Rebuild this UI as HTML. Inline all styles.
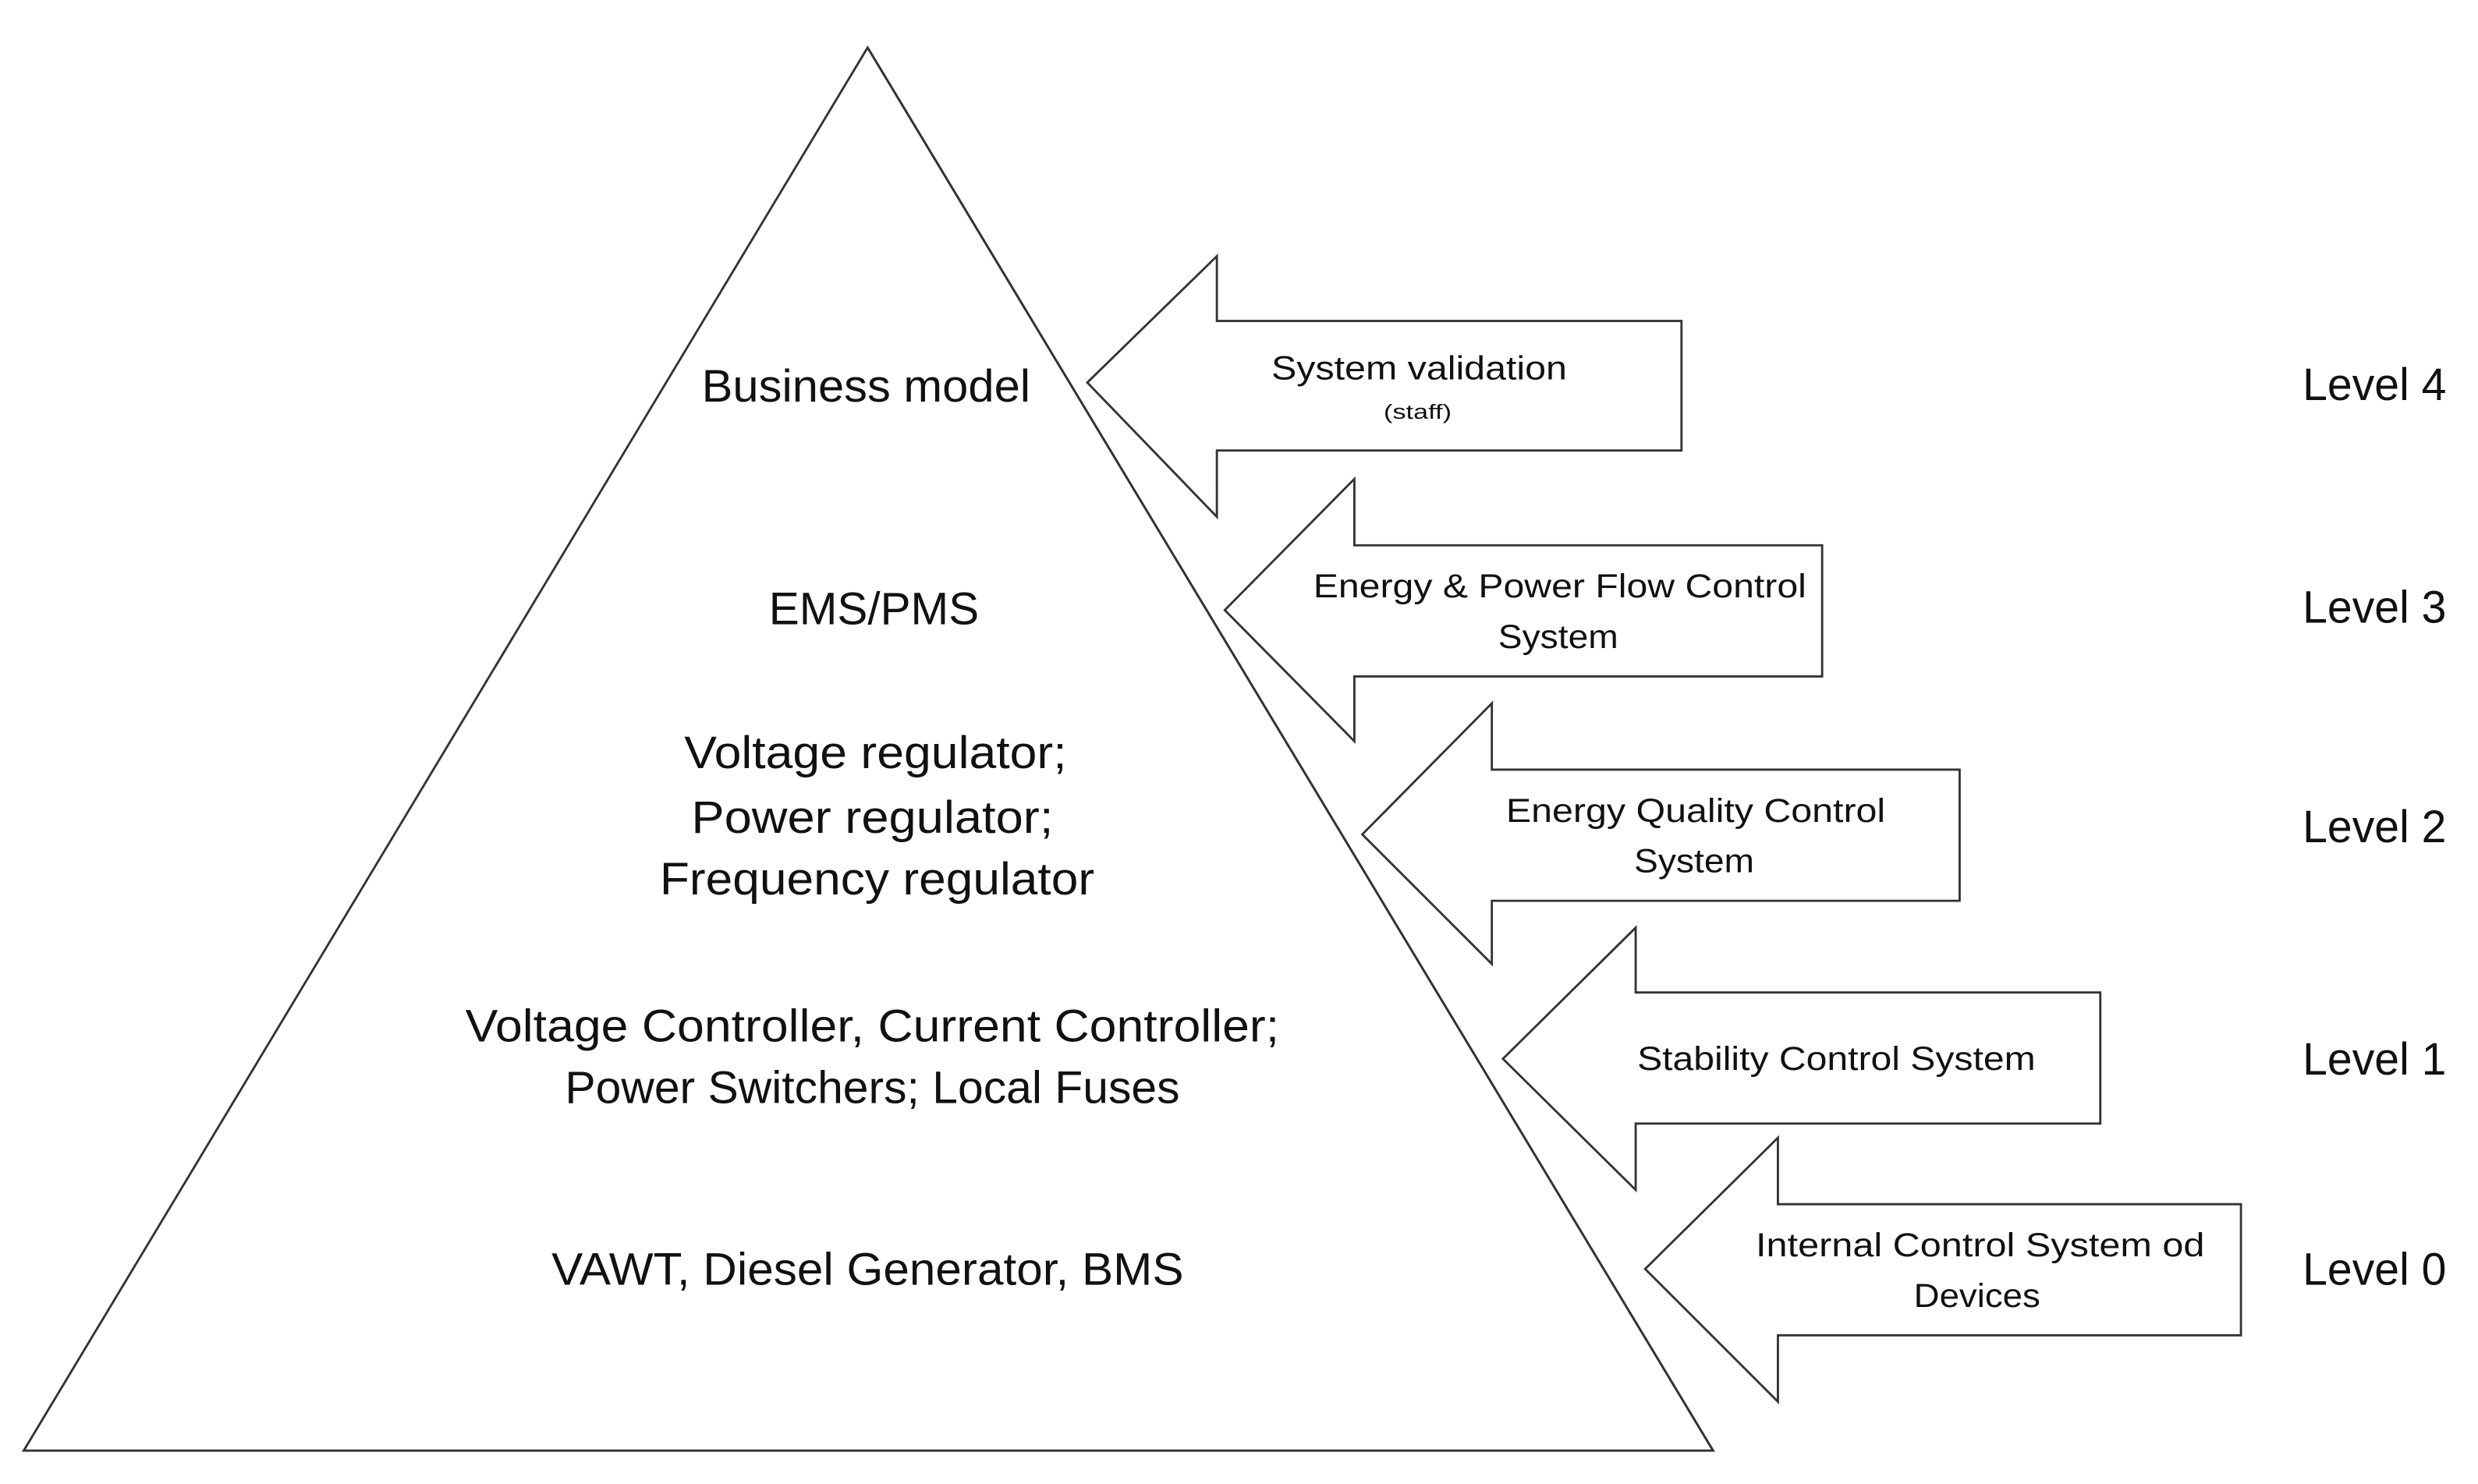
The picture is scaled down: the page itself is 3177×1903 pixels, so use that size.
<!DOCTYPE html>
<html><head><meta charset="utf-8"><style>
html,body{margin:0;padding:0;background:#fff;}
svg{display:block;}
text{font-family:"Liberation Sans",sans-serif;fill:#111;}
</style></head><body>
<svg width="3177" height="1903" viewBox="0 0 1568 939" xmlns="http://www.w3.org/2000/svg">
<g fill="#fff" stroke="#333" stroke-width="1.4" stroke-linejoin="miter">
<polygon points="549,30 15,918 1084,918"/>
<polygon points="688,242 770,162 770,203 1064,203 1064,285 770,285 770,327"/>
<polygon points="775,386 857,303 857,345 1153,345 1153,428 857,428 857,469"/>
<polygon points="862,528 944,445 944,487 1240,487 1240,570 944,570 944,610"/>
<polygon points="951,670 1035,587 1035,628 1329,628 1329,711 1035,711 1035,753"/>
<polygon points="1041,803 1125,720 1125,762 1418,762 1418,845 1125,845 1125,887"/>
</g>
<line x1="549" y1="30" x2="1084" y2="918" stroke="#333" stroke-width="1.4"/>
<g font-size="29" text-anchor="middle">
<text x="548" y="254" textLength="208" lengthAdjust="spacingAndGlyphs">Business model</text>
<text x="553" y="395" textLength="133" lengthAdjust="spacingAndGlyphs">EMS/PMS</text>
<text x="554" y="486" textLength="242" lengthAdjust="spacingAndGlyphs">Voltage regulator;</text>
<text x="552" y="527" textLength="229" lengthAdjust="spacingAndGlyphs">Power regulator;</text>
<text x="555" y="566" textLength="275" lengthAdjust="spacingAndGlyphs">Frequency regulator</text>
<text x="552" y="659" textLength="515" lengthAdjust="spacingAndGlyphs">Voltage Controller, Current Controller;</text>
<text x="552" y="698" textLength="389" lengthAdjust="spacingAndGlyphs">Power Switchers; Local Fuses</text>
<text x="549" y="813" textLength="400" lengthAdjust="spacingAndGlyphs">VAWT, Diesel Generator, BMS</text>
</g>
<g font-size="29">
<text x="1457" y="253" textLength="91" lengthAdjust="spacingAndGlyphs">Level 4</text>
<text x="1457" y="394" textLength="91" lengthAdjust="spacingAndGlyphs">Level 3</text>
<text x="1457" y="533" textLength="91" lengthAdjust="spacingAndGlyphs">Level 2</text>
<text x="1457" y="680" textLength="91" lengthAdjust="spacingAndGlyphs">Level 1</text>
<text x="1457" y="813" textLength="91" lengthAdjust="spacingAndGlyphs">Level 0</text>
</g>
<g font-size="21" text-anchor="middle">
<text x="898" y="240" textLength="187" lengthAdjust="spacingAndGlyphs">System validation</text>
<text x="897" y="265" font-size="13" textLength="43" lengthAdjust="spacingAndGlyphs">(staff)</text>
<text x="987" y="378" textLength="312" lengthAdjust="spacingAndGlyphs">Energy &amp; Power Flow Control</text>
<text x="986" y="410" textLength="76" lengthAdjust="spacingAndGlyphs">System</text>
<text x="1073" y="520" textLength="240" lengthAdjust="spacingAndGlyphs">Energy Quality Control</text>
<text x="1072" y="552" textLength="76" lengthAdjust="spacingAndGlyphs">System</text>
<text x="1162" y="677" textLength="252" lengthAdjust="spacingAndGlyphs">Stability Control System</text>
<text x="1253" y="795" textLength="284" lengthAdjust="spacingAndGlyphs">Internal Control System od</text>
<text x="1251" y="827" textLength="80" lengthAdjust="spacingAndGlyphs">Devices</text>
</g>
</svg>
</body></html>
